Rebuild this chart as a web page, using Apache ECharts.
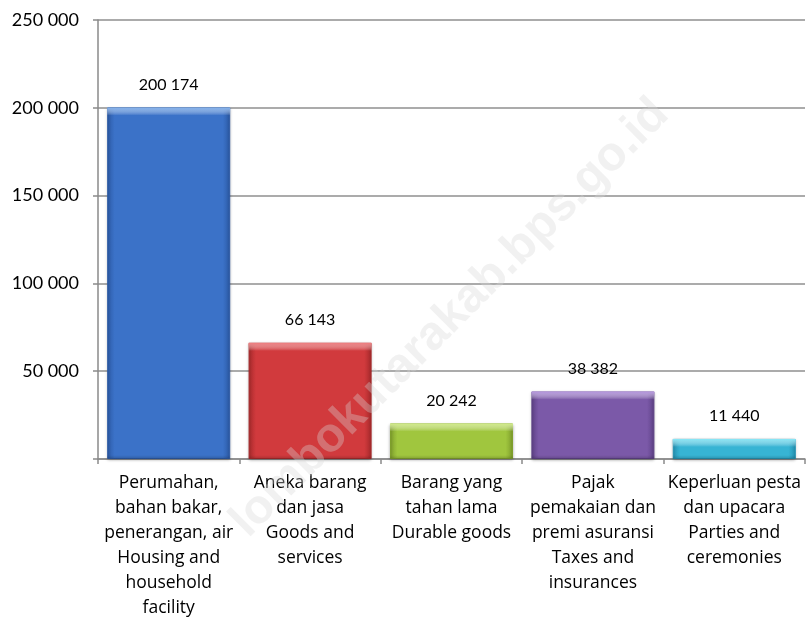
<!DOCTYPE html>
<html>
<head>
<meta charset="utf-8">
<script src="https://cdn.jsdelivr.net/npm/echarts@6/dist/echarts.min.js"></script>
<style>
  html, body { margin: 0; padding: 0; background: #fff; }
  #chart { width: 807px; height: 626px; }
</style>
</head>
<body>
<div id="chart"></div>
<script>
// categories (Indonesian + English on separate lines)
const categories = [
  "Perumahan,\nbahan bakar,\npenerangan, air\nHousing and\nhousehold\nfacility",
  "Aneka barang\ndan jasa\nGoods and\nservices",
  "Barang yang\ntahan lama\nDurable goods",
  "Pajak\npemakaian dan\npremi asuransi\nTaxes and\ninsurances",
  "Keperluan pesta\ndan upacara\nParties and\nceremonies"
];
const values = [200174, 66143, 20242, 38382, 11440];
// [dark edge, main, top highlight]
const barColors = [
  ["#2c5aa6", "#3b72c8", "#7fb0ee"],
  ["#a82a2c", "#d13a3d", "#f07a7c"],
  ["#7f9f2c", "#a0c63e", "#d2ee86"],
  ["#5f4288", "#7b59a8", "#b595e0"],
  ["#2493b3", "#37b4d4", "#86e8f8"]
];
const yMax = 250000;
const yStep = 50000;

// thousands separated by a space: 200 174
function fmt(v) {
  return String(v).replace(/\B(?=(\d{3})+(?!\d))/g, " ");
}

const chart = echarts.init(document.getElementById("chart"));
const font = "Lato, 'Open Sans', sans-serif";
const plotH = 626 - 20 - 167;

chart.setOption({
  animation: false,
  grid: { left: 98, right: 2, top: 20, bottom: 167 },
  graphic: [{
    type: "text",
    z: 100,
    silent: true,
    x: 450, y: 318,
    rotation: Math.PI / 4,
    style: {
      text: "lombokutarakab.bps.go.id",
      fill: "rgba(215,215,215,0.35)",
      font: "bold 48px 'Liberation Sans', Arial, sans-serif",
      align: "center",
      verticalAlign: "middle"
    }
  }],
  xAxis: {
    type: "category",
    data: categories,
    axisLine: { lineStyle: { color: "#8a8a8a", width: 1.5 } },
    axisTick: { show: true, length: 5, lineStyle: { color: "#8a8a8a", width: 1.5 } },
    axisLabel: {
      interval: 0,
      color: "#000",
      fontFamily: "'Open Sans', sans-serif",
      fontSize: 17.5,
      lineHeight: 25,
      margin: 12
    }
  },
  yAxis: {
    type: "value",
    min: 0,
    max: yMax,
    interval: yStep,
    axisLine: { show: true, lineStyle: { color: "#8a8a8a", width: 1.5 } },
    axisTick: { show: true, length: 5, lineStyle: { color: "#8a8a8a", width: 1.5 } },
    splitLine: { lineStyle: { color: "#8f8f8f", width: 1.5 } },
    axisLabel: {
      color: "#000",
      fontFamily: font,
      fontSize: 18,
      margin: 19,
      formatter: v => v === 0 ? "" : fmt(v)
    }
  },
  series: [{
    type: "bar",
    barWidth: "87%",
    data: values.map((v, i) => ({
      value: v,
      itemStyle: {
        color: {
          type: "linear", x: 0, y: 0, x2: 1, y2: 0,
          colorStops: [
            { offset: 0, color: barColors[i][0] },
            { offset: 0.06, color: barColors[i][1] },
            { offset: 0.94, color: barColors[i][1] },
            { offset: 1, color: barColors[i][0] }
          ]
        },
        borderColor: barColors[i][0],
        borderWidth: 1,
        shadowColor: "rgba(0,0,0,0.25)",
        shadowBlur: 3,
        shadowOffsetY: 1
      }
    })),
    label: {
      show: true,
      position: "top",
      distance: 15,
      color: "#000",
      fontFamily: font,
      fontSize: 16,
      formatter: p => fmt(p.value)
    }
  }, {
    // bevel highlight along the top edge of each bar (~8px tall)
    type: "bar",
    barWidth: "87%",
    barGap: "-100%",
    silent: true,
    data: values.map((v, i) => {
      const h = 8 / (v / yMax * plotH);
      return {
        value: v,
        itemStyle: {
          color: {
            type: "linear", x: 0, y: 0, x2: 0, y2: 1,
            colorStops: [
              { offset: 0, color: barColors[i][2] },
              { offset: h, color: "rgba(255,255,255,0)" },
              { offset: 1 - h * 0.5, color: "rgba(0,0,0,0)" },
              { offset: 1, color: "rgba(0,0,0,0.15)" }
            ]
          }
        }
      };
    })
  }]
});
</script>
</body>
</html>
